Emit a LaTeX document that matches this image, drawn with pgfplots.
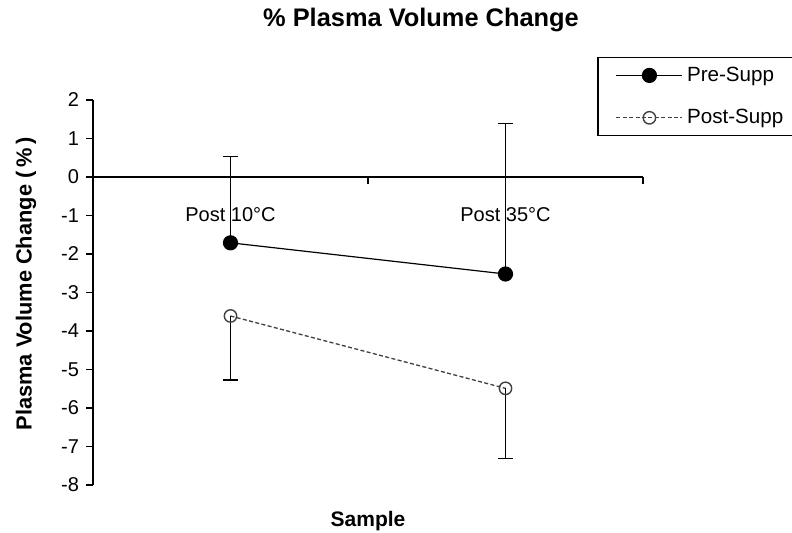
\documentclass[border=0pt]{standalone}
\usepackage{fontspec}
\setmainfont{Liberation Sans}
\usepackage{pgfplots}
\usepackage{pgfplotstable}
\pgfplotsset{compat=1.18}
\pgfplotstableread{
x y e
0 -1.71 2.24
1 -2.52 3.91
}\pre
\pgfplotstableread{
x y e
0 -3.61 1.66
1 -5.49 1.82
}\post
\begin{document}
\begin{tikzpicture}
\useasboundingbox (0,0) rectangle (396pt,266.5pt);
\begin{axis}[
  at={(46.5pt,24pt)}, anchor=south west,
  scale only axis, width=275pt, height=192.5pt,
  xmin=-0.5, xmax=1.5, ymin=-8, ymax=2,
  axis x line=middle, axis y line=left,
  axis line style={-, line width=0.75pt, black},
  xtick={-0.5,0.5,1.5}, xticklabels={,,},
  extra x ticks={0,1}, extra x tick labels={Post 10°C,Post 35°C},
  extra x tick style={tick style={draw=none}, xticklabel style={yshift=-8pt}},
  ytick={-8,-7,...,2},
  tick align=outside, major tick length=3.5pt,
  tick style={black, line width=0.75pt},
  /pgf/number format/assume math mode=true,
  ticklabel style={font=\fontsize{10}{12}\selectfont},
  legend style={at={(0.9164,1.1117)}, anchor=north west, draw=black, line width=0.75pt,
    font=\fontsize{10.3}{12}\selectfont, inner xsep=4pt, inner ysep=2.5pt, row sep=8.5pt},
  legend cell align=left,
  legend image code/.code={\path (-5pt,0pt); \draw[mark repeat=2,mark phase=2,#1] plot coordinates {(0pt,0pt) (16.5pt,0pt) (33pt,0pt)};},
  clip=false,
]
\addplot[black, line width=0.6pt, mark=*, mark size=3.5pt, mark options={fill=black},
  error bars/.cd, y dir=plus, y explicit,
  error mark options={rotate=90, mark size=3.6pt, black, line width=0.9pt},
  error bar style={black, line width=0.9pt}]
  table[x=x, y=y, y error=e] {\pre};
\addlegendentry{Pre-Supp}
\addplot[black!75, dash pattern=on 2pt off 1.2pt, line width=0.65pt, mark=o, mark size=3.1pt, mark options={solid, fill=white, black!75, line width=0.7pt},
  error bars/.cd, y dir=minus, y explicit,
  error mark options={rotate=90, mark size=3.6pt, black, line width=0.9pt, solid},
  error bar style={black, line width=0.9pt, solid}]
  table[x=x, y=y, y error=e] {\post};
\addlegendentry{Post-Supp}
\end{axis}
\node[font=\fontsize{12.7}{15}\selectfont\bfseries] at (210.5pt,256.5pt) {\% Plasma Volume Change};
\node[font=\fontsize{10.5}{12}\selectfont\bfseries] at (184pt,6pt) {Sample};
\node[rotate=90, font=\fontsize{10.9}{12}\selectfont\bfseries] at (13pt,124.5pt) {Plasma Volume Change (\,\%\,)};
\end{tikzpicture}
\end{document}
